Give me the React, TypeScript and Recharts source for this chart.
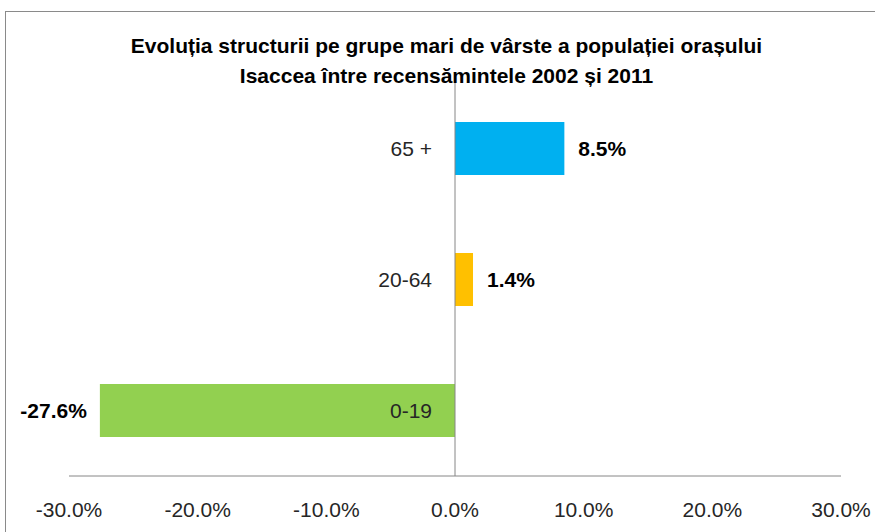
import React from 'react';
import { BarChart, Bar, XAxis, YAxis, ReferenceLine, Cell, LabelList } from 'recharts';

const categories = ['65 +', '20-64', '0-19'];
const values = [8.5, 1.4, -27.6];
const xTicks = [-30, -20, -10, 0, 10, 20, 30];
const titleLines = [
  'Evoluția structurii pe grupe mari de vârste a populației orașului',
  'Isaccea între recensămintele 2002 și 2011',
];
const barColors = ['#00B0F0', '#FFC000', '#92D050'];

const data = categories.map((name, i) => ({ name, value: values[i] }));

const FONT = '"Liberation Sans", Arial, sans-serif';

const CategoryLabel = (props: any) => {
  const { x, y, width, height, value, index } = props;
  const v = values[index];
  const left = Math.min(x, x + width);
  const right = Math.max(x, x + width);
  const zeroX = v >= 0 ? left : right;
  return (
    <text x={zeroX - 23} y={y + height / 2} dy="0.35em" textAnchor="end" fontFamily={FONT} fontSize={21} fill="#262626">
      {value}
    </text>
  );
};

const ValueLabel = (props: any) => {
  const { x, y, width, height, value } = props;
  const left = Math.min(x, x + width);
  const right = Math.max(x, x + width);
  const pos = value >= 0;
  return (
    <text
      x={pos ? right + 14 : left - 13}
      y={y + height / 2}
      dy="0.35em"
      textAnchor={pos ? 'start' : 'end'}
      fontFamily={FONT}
      fontSize={21}
      fontWeight="bold"
      fill="#000"
    >
      {value.toFixed(1) + '%'}
    </text>
  );
};

export default function App() {
  return (
    <div style={{ position: 'absolute', left: 0, top: 0, width: 875, height: 532, overflow: 'hidden', background: '#fff' }}>
      <div style={{ position: 'absolute', left: 5, top: 11, width: 1000, height: 1000, borderLeft: '1px solid #8a8a8a', borderTop: '1px solid #8a8a8a' }} />
      <div
        style={{
          position: 'absolute',
          left: 0,
          top: 31,
          width: 893,
          textAlign: 'center',
          fontFamily: FONT,
          fontWeight: 'bold',
          fontSize: 21,
          lineHeight: '30px',
          color: '#000',
          whiteSpace: 'nowrap',
        }}
      >
        {titleLines.map((t) => (
          <div key={t}>{t}</div>
        ))}
      </div>
      <div style={{ position: 'absolute', left: 0, top: 0 }}>
        <BarChart
          width={875}
          height={532}
          data={data}
          layout="vertical"
          margin={{ top: 83, right: 34, bottom: 0, left: 69 }}
          barSize={53}
        >
          <XAxis
            type="number"
            domain={[-30, 30]}
            ticks={xTicks}
            allowDataOverflow
            tickFormatter={(v: number) => v.toFixed(1) + '%'}
            axisLine={{ stroke: '#868686' }}
            tickLine={false}
            tickSize={0}
            tickMargin={26}
            height={56}
            tick={{ fontFamily: FONT, fontSize: 21, fill: '#262626' }}
            interval={0}
          />
          <YAxis type="category" dataKey="name" hide />
          <ReferenceLine x={0} stroke="#868686" />
          <Bar dataKey="value" isAnimationActive={false}>
            {data.map((d, i) => (
              <Cell key={d.name} fill={barColors[i]} />
            ))}
            <LabelList dataKey="value" content={ValueLabel} />
            <LabelList dataKey="name" content={CategoryLabel} />
          </Bar>
        </BarChart>
      </div>
    </div>
  );
}
